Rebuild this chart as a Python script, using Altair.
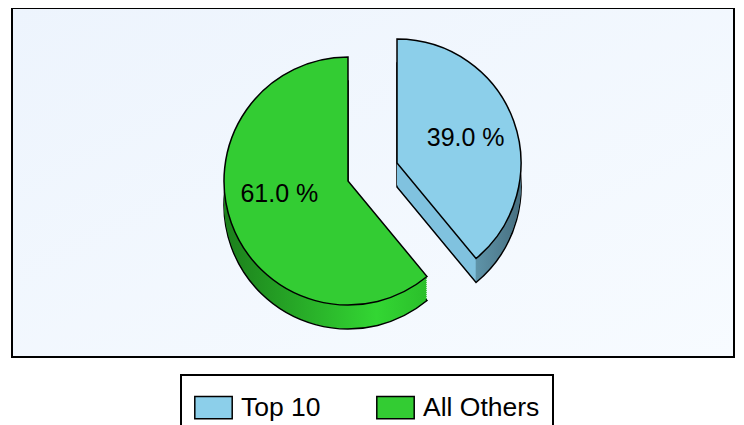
import math
import altair as alt
import pandas as pd

# ---- data ----
categories = ["Top 10", "All Others"]
values = [39.0, 61.0]
top_colors = ["#8ccfea", "#33cc33"]

df = pd.DataFrame({"category": categories, "value": values})
df["end"] = df["value"].cumsum()
df["start"] = df["end"] - df["value"]
df["mid"] = (df["start"] + df["end"]) / 2
TOTAL = float(sum(values))

theta_scale = alt.Scale(domain=[0, TOTAL], range=[0, 2 * math.pi])

# ---- layout / style ----
W, H = 728, 417
R = 124
DEPTH = 24
STEP = 2
centers = {"All Others": (340, 173), "Top 10": (389, 155)}
label_dy = {"All Others": -12, "Top 10": 0}


def grad(stops):
    return alt.Gradient(
        gradient="linear",
        stops=[alt.GradientStop(color=c, offset=o) for o, c in stops],
        x1=0, y1=0, x2=1, y2=0,
    )


side_fill = {
    "Top 10": grad([(0, "#80c2df"), (0.63, "#80c2df"), (0.64, "#5e93a8"), (1, "#476f80")]),
    "All Others": grad([(0, "#1c7f1c"), (0.75, "#33d633"), (1, "#2bbf2b")]),
}

legend = alt.Legend(
    orient="none", legendX=173, legendY=367, direction="horizontal", title=None,
    fillColor="white", strokeColor="black", padding=13,
    symbolType="M-1,-0.6H1V0.6H-1Z", symbolSize=1400,
    symbolStrokeColor="black", symbolStrokeWidth=1.5, symbolOpacity=1,
    labelFontSize=26.5, labelFont="Liberation Sans", labelColor="black",
    labelOffset=8, columnPadding=52,
)

bg = alt.Chart(pd.DataFrame({"a": [0]})).mark_rect(
    fill=alt.Gradient(
        gradient="linear",
        stops=[alt.GradientStop(color="#edf4fd", offset=0),
               alt.GradientStop(color="#f7fbff", offset=1)],
        x1=0, y1=0, x2=1, y2=1,
    ),
    stroke="black", strokeWidth=2,
).encode(x=alt.value(4), x2=alt.value(726), y=alt.value(0), y2=alt.value(349))

layers = [bg]
for cat in ["All Others", "Top 10"]:
    cx, cy = centers[cat]
    base = alt.Chart(df).transform_filter(alt.datum.category == cat)
    th = alt.Theta("start:Q", scale=theta_scale, stack=None)
    layers.append(
        base.mark_arc(radius=R, fill=side_fill[cat], stroke="black", strokeWidth=1.5)
        .encode(theta=th, theta2="end:Q", x=alt.value(cx), y=alt.value(cy + DEPTH))
    )
    for d in range(DEPTH - STEP, 0, -STEP):
        layers.append(
            base.mark_arc(radius=R, fill=side_fill[cat])
            .encode(theta=th, theta2="end:Q", x=alt.value(cx), y=alt.value(cy + d))
        )
    layers.append(
        base.mark_arc(radius=R, stroke="black", strokeWidth=1.5, opacity=1)
        .encode(
            theta=th, theta2="end:Q", x=alt.value(cx), y=alt.value(cy),
            color=alt.Color("category:N",
                            scale=alt.Scale(domain=categories, range=top_colors),
                            legend=legend),
        )
    )
    layers.append(
        base.transform_calculate(label="format(datum.value, '.1f') + ' %'")
        .mark_text(radius=73, fontSize=25, font="Liberation Sans", color="black",
                   dy=label_dy[cat])
        .encode(theta=alt.Theta("mid:Q", scale=theta_scale, stack=None),
                text="label:N", x=alt.value(cx), y=alt.value(cy))
    )

chart = alt.layer(*layers).properties(
    width=W, height=H, autosize=alt.AutoSizeParams(type="none"), padding=0
).configure_view(stroke=None).configure_legend(strokeWidth=2)

chart.save("out.html", embed_options={"renderer": "svg", "actions": False})
